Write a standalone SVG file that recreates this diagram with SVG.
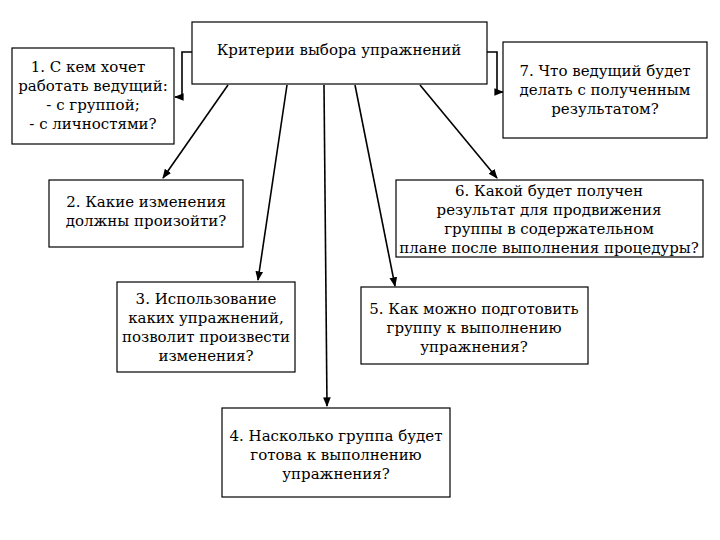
<svg xmlns="http://www.w3.org/2000/svg" width="720" height="540" viewBox="0 0 720 540">
<defs>
<style>
.b{fill:#fff;stroke:#000;stroke-width:1.2}
.t{font-family:'DejaVu Serif','Liberation Serif',serif;font-size:15px;text-anchor:middle;fill:#000}
.c{fill:none;stroke:#000;stroke-width:1.6;marker-end:url(#a)}
</style>
<marker id="a" viewBox="0 0 10 10" refX="9" refY="5" markerWidth="6" markerHeight="6" orient="auto"><path d="M0,1L10,5L0,9z"/></marker>
</defs>
<rect width="720" height="540" fill="#fff"/>
<g id="connectors">
<path class="c" d="M192,52H182V97H175"/>
<path class="c" d="M487,52H497V92H503"/>
<path class="c" d="M228,85L163,178"/>
<path class="c" d="M287,85L258,280"/>
<path class="c" d="M324,85L327,406"/>
<path class="c" d="M355,85L395,286"/>
<path class="c" d="M420,85L497,178"/>
</g>
<g id="center"><rect class="b" x="192" y="22" width="295" height="62" stroke-width="2.2"/><text class="t" font-family="DejaVu Serif, serif" x="339" y="55" font-size="16.5">Критерии выбора упражнений</text></g>
<g id="n1"><rect class="b" x="12" y="48" width="162" height="96"/><text class="t" font-family="DejaVu Serif, serif" x="93" y="72"><tspan x="88">1.  С кем хочет</tspan><tspan x="93" dy="19">работать ведущий:</tspan><tspan x="93" dy="19">- с группой;</tspan><tspan x="93" dy="19">- с личностями?</tspan></text></g>
<g id="n7"><rect class="b" x="503" y="42" width="204" height="96"/><text class="t" font-family="DejaVu Serif, serif" x="605" y="76"><tspan x="605">7. Что ведущий будет</tspan><tspan x="605" dy="19">делать с полученным</tspan><tspan x="605" dy="19">результатом?</tspan></text></g>
<g id="n2"><rect class="b" x="49" y="180" width="194" height="67"/><text class="t" font-family="DejaVu Serif, serif" x="146" y="207"><tspan x="146">2. Какие изменения</tspan><tspan x="146" dy="19">должны произойти?</tspan></text></g>
<g id="n6"><rect class="b" x="396" y="180" width="307" height="77"/><text class="t" font-family="DejaVu Serif, serif" x="549" y="196"><tspan x="549">6. Какой будет получен</tspan><tspan x="549" dy="19">результат для продвижения</tspan><tspan x="549" dy="19">группы в содержательном</tspan><tspan x="549" dy="19">плане после выполнения процедуры?</tspan></text></g>
<g id="n3"><rect class="b" x="117" y="282" width="178" height="90"/><text class="t" font-family="DejaVu Serif, serif" x="206" y="304"><tspan x="206">3. Использование</tspan><tspan x="206" dy="19">каких упражнений,</tspan><tspan x="206" dy="19">позволит произвести</tspan><tspan x="206" dy="19">изменения?</tspan></text></g>
<g id="n5"><rect class="b" x="361" y="287" width="227" height="77"/><text class="t" font-family="DejaVu Serif, serif" x="474" y="314"><tspan x="474">5. Как можно подготовить</tspan><tspan x="474" dy="19">группу к выполнению</tspan><tspan x="474" dy="19">упражнения?</tspan></text></g>
<g id="n4"><rect class="b" x="222" y="408" width="228" height="89"/><text class="t" font-family="DejaVu Serif, serif" x="336" y="441"><tspan x="336">4. Насколько группа будет</tspan><tspan x="336" dy="19">готова к выполнению</tspan><tspan x="336" dy="19">упражнения?</tspan></text></g>
</svg>
